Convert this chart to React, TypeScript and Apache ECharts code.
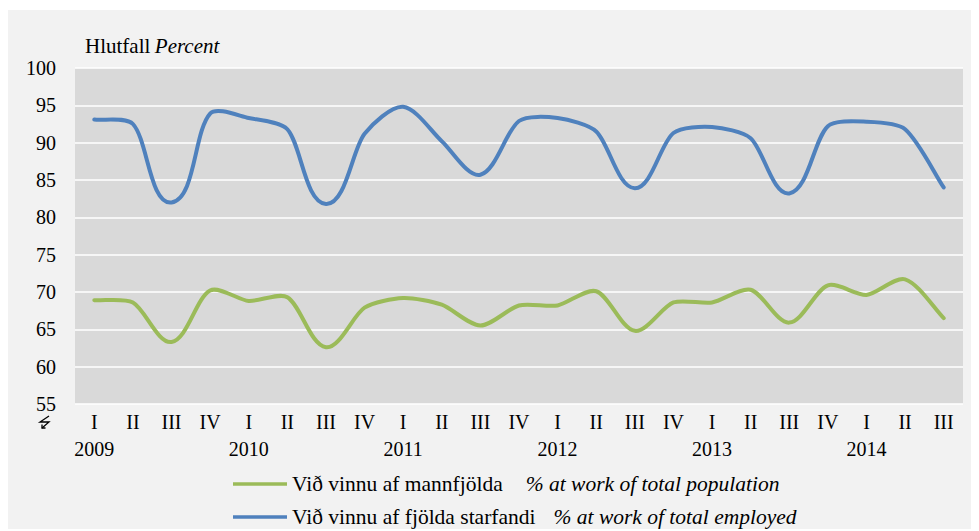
import React, { useEffect, useRef } from "react";
import * as echarts from "echarts";

const quarters = ["I","II","III","IV","I","II","III","IV","I","II","III","IV","I","II","III","IV","I","II","III","IV","I","II","III"];
const years = ["2009","","","","2010","","","","2011","","","","2012","","","","2013","","","","2014","",""];
const employedShare = [93.1, 92.5, 82.0, 93.9, 93.3, 91.8, 81.8, 91.2, 94.8, 90.2, 85.7, 92.9, 93.3, 91.5, 83.9, 91.3, 92.1, 90.6, 83.2, 92.2, 92.8, 91.8, 84.0];
const populationShare = [68.9, 68.6, 63.3, 70.2, 68.8, 69.3, 62.6, 67.9, 69.2, 68.3, 65.5, 68.2, 68.2, 70.1, 64.8, 68.6, 68.6, 70.3, 65.9, 70.9, 69.6, 71.7, 66.5];
const yTicks = { min: 55, max: 100, interval: 5 };
const seriesNames = ["Við vinnu af mannfjölda", "Við vinnu af fjölda starfandi"];
const seriesEnglish = ["% at work of total population", "% at work of total employed"];
const seriesColors = ["#9bbb59", "#4f81bd"];

const FONT = "Liberation Serif";

// Smooth curve through the axis-placed points (chord-length scaled tangents)
function makeRenderItem(values: number[], color: string) {
  return (params: any, api: any) => {
    if (params.dataIndex !== 0) return null;
    const pts: number[][] = values.map((v, i) => api.coord([i, v]));
    const n = pts.length;
    const tan = pts.map((p, i) => {
      const a = pts[Math.max(0, i - 1)];
      const b = pts[Math.min(n - 1, i + 1)];
      const dx = b[0] - a[0];
      const dy = b[1] - a[1];
      const L = Math.hypot(dx, dy) || 1;
      return [dx / L, dy / L];
    });
    const k = 0.25;
    let d = `M${pts[0][0]},${pts[0][1]}`;
    for (let i = 0; i < n - 1; i++) {
      const p1 = pts[i];
      const p2 = pts[i + 1];
      const len = Math.hypot(p2[0] - p1[0], p2[1] - p1[1]);
      const c1x = p1[0] + tan[i][0] * len * k;
      const c1y = p1[1] + tan[i][1] * len * k;
      const c2x = p2[0] - tan[i + 1][0] * len * k;
      const c2y = p2[1] - tan[i + 1][1] * len * k;
      d += ` C${c1x},${c1y} ${c2x},${c2y} ${p2[0]},${p2[1]}`;
    }
    return {
      type: "path",
      shape: { pathData: d },
      style: { fill: "none", stroke: color, lineWidth: 4, lineJoin: "round", lineCap: "round" },
    };
  };
}

export default function App() {
  const ref = useRef<HTMLDivElement>(null);
  useEffect(() => {
    if (!ref.current) return;
    const chart = echarts.init(ref.current, undefined, { renderer: "svg" });
    const cats = quarters.map((q, i) => (years[i] ? `${q}\n${years[i]}` : q));
    const legendFor = (idx: number, top: number, gap: number) => ({
      show: true,
      orient: "horizontal",
      left: 225,
      top,
      padding: 0,
      icon: "rect",
      itemWidth: 54,
      itemHeight: 3.5,
      data: [seriesNames[idx]],
      formatter: (name: string) => `{a|${name}}{b|${seriesEnglish[seriesNames.indexOf(name)]}}`,
      textStyle: {
        rich: {
          a: { fontFamily: FONT, fontSize: 21.5, color: "#000", lineHeight: 24 },
          b: { fontFamily: FONT, fontSize: 21.5, fontStyle: "italic", color: "#000", padding: [0, 0, 0, gap], lineHeight: 24 },
        },
      },
    });
    chart.setOption({
      animation: false,
      backgroundColor: "#f2f2f2",
      textStyle: { fontFamily: FONT },
      title: {
        left: 72,
        top: 20,
        text: "{a|Hlutfall} {b|Percent}",
        textStyle: {
          fontWeight: "normal",
          rich: {
            a: { fontFamily: FONT, fontSize: 21, color: "#000", fontWeight: "normal" },
            b: { fontFamily: FONT, fontSize: 21, fontStyle: "italic", color: "#000", fontWeight: "normal" },
          },
        },
      },
      grid: {
        left: 67,
        top: 58,
        width: 888,
        height: 336,
        show: true,
        backgroundColor: "#d9d9d9",
        borderWidth: 0,
      },
      legend: [legendFor(0, 463, 23), legendFor(1, 496, 18)],
      xAxis: {
        type: "category",
        data: cats,
        boundaryGap: true,
        axisLine: { show: false },
        axisTick: { show: false },
        axisLabel: {
          interval: 0,
          color: "#000",
          fontFamily: FONT,
          fontSize: 20,
          lineHeight: 27,
          margin: 4,
        },
      },
      yAxis: {
        type: "value",
        min: yTicks.min,
        max: yTicks.max,
        interval: yTicks.interval,
        axisLine: { show: false },
        axisTick: { show: false },
        axisLabel: { color: "#000", fontFamily: FONT, fontSize: 20, margin: 19 },
        splitLine: { lineStyle: { color: "#ffffff", width: 1.5 } },
      },
      graphic: [
        {
          type: "polyline",
          shape: { points: [[41, 406], [32, 412], [41, 412], [34, 418]] },
          style: { stroke: "#000", lineWidth: 1.3, fill: null },
        },
        {
          type: "polyline",
          shape: { points: [[34, 414.5], [34, 418], [37.5, 418]] },
          style: { stroke: "#000", lineWidth: 1.3, fill: null },
        },
      ],
      series: [
        {
          name: seriesNames[0],
          type: "custom",
          renderItem: makeRenderItem(populationShare, seriesColors[0]),
          data: populationShare.map((v, i) => [i, v]),
          encode: { x: 0, y: 1 },
          itemStyle: { color: seriesColors[0] },
        },
        {
          name: seriesNames[1],
          type: "custom",
          renderItem: makeRenderItem(employedShare, seriesColors[1]),
          data: employedShare.map((v, i) => [i, v]),
          encode: { x: 0, y: 1 },
          itemStyle: { color: seriesColors[1] },
        },
      ],
    });
    return () => chart.dispose();
  }, []);
  return (
    <div
      ref={ref}
      style={{ width: 971, height: 521, position: "relative", top: 2 }}
    />
  );
}
